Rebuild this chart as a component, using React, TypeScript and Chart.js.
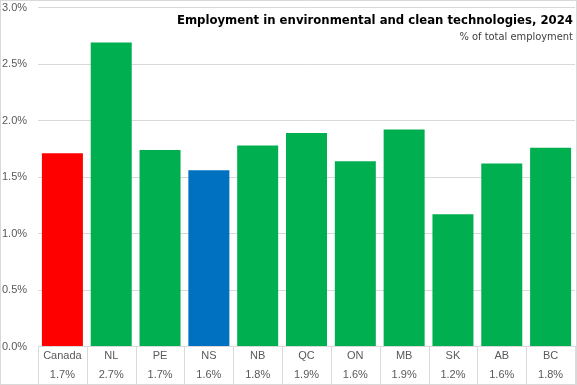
import React, { useEffect, useRef } from "react";
import { Chart, registerables } from "chart.js";

Chart.register(...registerables);

const categories = ["Canada", "NL", "PE", "NS", "NB", "QC", "ON", "MB", "SK", "AB", "BC"];
const values = [1.71, 2.69, 1.74, 1.56, 1.78, 1.89, 1.64, 1.92, 1.17, 1.62, 1.76];
const yTicks = [0, 0.5, 1.0, 1.5, 2.0, 2.5, 3.0];
const titleText = "Employment in environmental and clean technologies, 2024";
const subtitleText = "% of total employment";

const RED = "#FF0000";
const GREEN = "#00B050";
const BLUE = "#0070C0";
const barColors = categories.map((c) => (c === "Canada" ? RED : c === "NS" ? BLUE : GREEN));

const GRID = "#d9d9d9";
const TEXT = "#595959";
const FONT = "'Liberation Sans', Arial, sans-serif";
const NARROW = "'Liberation Sans Narrow', 'DejaVu Sans Condensed', 'Liberation Sans', sans-serif";

const decorPlugin = {
  id: "decor",
  afterDraw(chart: any) {
    const { ctx, chartArea, width, height } = chart;
    const xs = chart.scales.x;
    ctx.save();
    ctx.strokeStyle = GRID;
    ctx.lineWidth = 1;
    const n = categories.length;
    const step = n > 1 ? xs.getPixelForValue(1) - xs.getPixelForValue(0) : xs.width;
    for (let i = 0; i <= n; i++) {
      const x = Math.round(xs.getPixelForValue(0) - step / 2 + i * step) + 0.5;
      ctx.beginPath();
      ctx.moveTo(x, chartArea.bottom);
      ctx.lineTo(x, height);
      ctx.stroke();
    }
    ctx.strokeRect(0.5, 0.5, width - 1, height - 1);
    ctx.textAlign = "right";
    ctx.textBaseline = "alphabetic";
    ctx.fillStyle = "#000000";
    ctx.font = `bold 13px ${NARROW}`;
    ctx.fillText(titleText, width - 4, 24);
    ctx.fillStyle = "#404040";
    ctx.font = `11px ${NARROW}`;
    ctx.fillText(subtitleText, width - 4, 40);
    ctx.restore();
  },
};

export default function App() {
  const ref = useRef<HTMLCanvasElement | null>(null);
  useEffect(() => {
    document.body.style.margin = "0";
    const canvas = ref.current;
    if (!canvas) return;
    const chart = new Chart(canvas, {
      type: "bar",
      data: {
        labels: categories,
        datasets: [
          {
            data: values,
            backgroundColor: barColors,
            borderWidth: 0,
            barPercentage: 0.84,
            categoryPercentage: 1.0,
          },
        ],
      },
      options: {
        animation: false,
        responsive: false,
        maintainAspectRatio: false,
        layout: { padding: { top: 0, left: 2, right: 2, bottom: 0 } },
        plugins: {
          legend: { display: false },
          tooltip: { enabled: false },
          title: { display: false },
        },
        scales: {
          x: {
            grid: { display: true, drawOnChartArea: false, drawTicks: false, color: GRID },
            border: { display: true, color: GRID },
            ticks: {
              padding: 0,
              color: TEXT,
              font: { family: FONT, size: 11, lineHeight: 1.75 },
              maxRotation: 0,
              autoSkip: false,
              callback: (_v: any, i: number) => [categories[i], values[i].toFixed(1) + "%"],
            },
          },
          y: {
            min: 0,
            max: 3,
            afterBuildTicks: (axis: any) => {
              axis.ticks = yTicks.map((v) => ({ value: v }));
            },
            afterFit: (axis: any) => {
              axis.width = 36;
            },
            grid: { color: GRID, drawTicks: false },
            border: { display: false },
            ticks: {
              padding: 1,
              color: TEXT,
              crossAlign: "far",
              font: { family: FONT, size: 11 },
              callback: (v: any) => Number(v).toFixed(1) + "%",
            },
          },
        },
      },
      plugins: [decorPlugin],
    });
    return () => chart.destroy();
  }, []);
  return (
    <div style={{ width: 577, height: 385 }}>
      <canvas ref={ref} width={577} height={385} style={{ display: "block" }} />
    </div>
  );
}
